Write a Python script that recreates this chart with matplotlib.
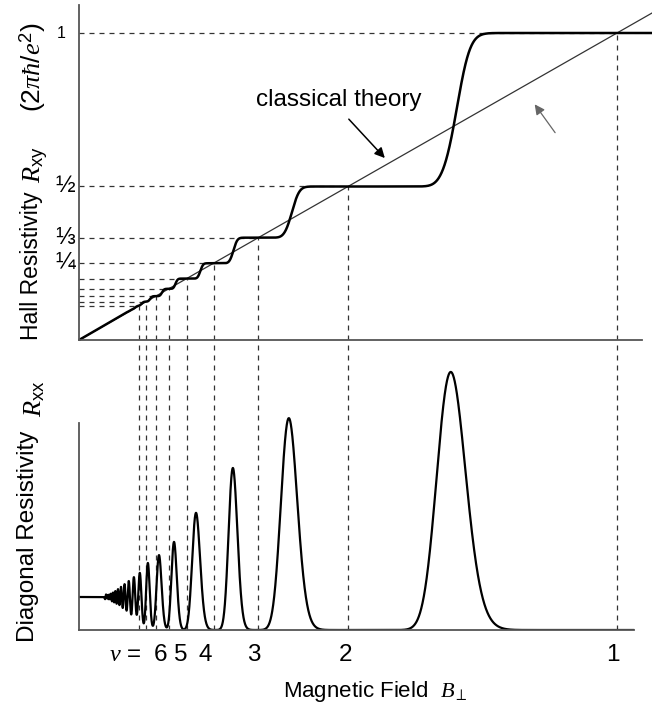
import math
import numpy as np
import matplotlib
matplotlib.use("Agg")
import matplotlib.pyplot as plt

plt.rcParams['font.family'] = ['Liberation Sans', 'DejaVu Sans']
plt.rcParams['mathtext.fontset'] = 'custom'
plt.rcParams['mathtext.rm'] = 'Liberation Sans'
plt.rcParams['mathtext.sf'] = 'Liberation Sans'
plt.rcParams['mathtext.it'] = 'Liberation Serif:italic'
plt.rcParams['mathtext.bf'] = 'Liberation Sans:bold'
plt.rcParams['mathtext.fallback'] = 'stix'

# ---------------- data ----------------
nu_levels = [1, 2, 3, 4, 5, 6, 7, 8, 9]          # filling factors with dashed guide lines
nu_axis_labels = [1, 2, 3, 4, 5, 6]               # numbers written under the x axis
ytick_vals = [1, 1 / 2, 1 / 3, 1 / 4]
ytick_labels = ['1', '½', '⅓', '¼']

# Hall resistance: field of the step nu -> nu+1 and its width (in filling factor units)
hall_step_B = [0.693, 0.393, 0.286, 0.225, 0.179, 0.154, 0.132, 0.116, 0.104, 0.094, 0.085, 0.078]
hall_step_w = [0.042, 0.07, 0.07, 0.08, 0.10, 0.13, 0.17, 0.22, 0.28, 0.35, 0.42, 0.50]

# diagonal resistance: peak field, height (low-field value = 1) and width (filling factor units)
rxx_peak_B = [0.691, 0.390, 0.286, 0.2175, 0.1766, 0.1487, 0.128, 0.113, 0.102, 0.0925,
              0.0847, 0.0781, 0.0725, 0.0676, 0.0633, 0.0595, 0.0562, 0.0532, 0.0505]
rxx_peak_h = [7.82, 6.42, 4.91, 3.55, 2.67, 2.27, 2.03, 1.73, 1.60, 1.48,
              1.38, 1.29, 1.21, 1.14, 1.08, 1.02, 0.97, 0.93, 0.87]
rxx_peak_w = [0.056, 0.10, 0.10, 0.155, 0.16, 0.21, 0.20, 0.23, 0.25, 0.27,
              0.29, 0.31, 0.33, 0.35, 0.37, 0.39, 0.41, 0.43, 0.46]
B_max = 1.065         # right end of the Hall trace
B_max_xx = 1.03       # right end of the Rxx trace

# ---------------- curves ----------------
erf = np.frompyfunc(math.erf, 1, 1)


def Phi(x):
    return 0.5 * (1.0 + erf(x / math.sqrt(2.0)).astype(float))


def phi(x):
    return np.exp(-0.5 * x ** 2) / math.sqrt(2 * math.pi)


B = np.linspace(0.002, B_max, 30000)
f = 1.0 / B

nu_eff = np.ones_like(B)
for tb, w in zip(hall_step_B, hall_step_w):
    nu_eff += Phi((f - 1.0 / tb) / w)
sig = hall_step_w[-1]
x = f - (1.0 / hall_step_B[-1] + 0.5)
nu_eff += x * Phi(x / sig) + sig * phi(x / sig)
R_xy = 1.0 / nu_eff
R_cl = B

R_xx = np.zeros_like(B)
for pb, h, w in zip(rxx_peak_B, rxx_peak_h, rxx_peak_w):
    R_xx += h * np.exp(-0.5 * ((f - 1.0 / pb) / w) ** 2)
sig = rxx_peak_w[-1]
R_xx += Phi((f - (1.0 / rxx_peak_B[-1] + 0.5)) / sig)

# ---------------- figure ----------------
W, H = 652, 713
fig = plt.figure(figsize=(W / 100, H / 100), dpi=100)
x0 = 79
px_per_B = 538
ax1 = fig.add_axes([x0 / W, (H - 340) / H, (W - x0) / W, 335 / H])
ax2 = fig.add_axes([x0 / W, (H - 630) / H, (W - x0) / W, 290 / H])

xlim = (0, (W - x0) / px_per_B)
for ax in (ax1, ax2):
    ax.set_xlim(*xlim)
    ax.spines['top'].set_visible(False)
    ax.spines['right'].set_visible(False)
    ax.set_xticks([])
    ax.set_yticks([])
    ax.patch.set_alpha(0)
    for s in ('left', 'bottom'):
        ax.spines[s].set_color('#555555')
        ax.spines[s].set_linewidth(1.3)

ax1.set_ylim(0, 335 / 307)
ax2.set_ylim(0, 290 / 33)
ax1.spines['bottom'].set_bounds(0, (642 - x0) / px_per_B)
ax2.spines['bottom'].set_bounds(0, (634 - x0) / px_per_B)
ax2.spines['left'].set_bounds(0, (630 - 423) / 33)

dash = dict(color='#333333', lw=0.9, linestyle=(0, (4, 4)))
for nu in nu_levels:
    v = 1.0 / nu
    ax1.plot([0, v], [v, v], **dash)
    ax1.plot([v, v], [0, v], **dash)
    ax2.plot([v, v], [0, ax2.get_ylim()[1]], **dash)

ax1.plot(B, R_cl, color='#333333', lw=0.9, clip_on=False)
ax1.plot(B, R_xy, color='black', lw=1.8, clip_on=False)
mask = B <= B_max_xx
ax2.plot(B[mask], R_xx[mask], color='black', lw=1.6)

# y tick labels of the Hall panel
tick_fs = [11.5, 17, 17, 17]
tick_off = [-13, -4, -4, -4]
for v, lab, fs, off in zip(ytick_vals, ytick_labels, tick_fs, tick_off):
    ax1.annotate(lab, xy=(0, v), xycoords=('axes fraction', 'data'),
                 xytext=(off, 0), textcoords='offset pixels',
                 ha='right', va='center', fontsize=fs)

ax1.text(0.483, 0.782, 'classical theory', ha='center', va='center', fontsize=17.5)
ax1.annotate('', xy=(0.572, 0.586), xytext=(0.498, 0.726),
             arrowprops=dict(arrowstyle='-|>', color='black', lw=1.1, mutation_scale=15))
ax1.annotate('', xy=(0.844, 0.775), xytext=(0.888, 0.668),
             arrowprops=dict(arrowstyle='-|>', color='#666666', lw=0.9, mutation_scale=15))

offs = {1: -4, 2: -3, 3: -5, 4: -8, 5: -6, 6: -8}
for nu in nu_axis_labels:
    ax2.annotate(str(nu), xy=(1.0 / nu, 0), xycoords=('data', 'axes fraction'),
                 xytext=(offs[nu], -25), textcoords='offset pixels',
                 ha='center', va='center', fontsize=17.5)
ax2.annotate(r'$\nu$ =', xy=(1.0 / 6, 0), xycoords=('data', 'axes fraction'),
             xytext=(-27, -25), textcoords='offset pixels',
             ha='right', va='center', fontsize=17.5)

fig.text(375 / W, 1 - 692 / H, r'Magnetic Field  $B_{\perp}$', ha='center', va='center', fontsize=16)


def vlabel(s, xb, yb, fs):
    fig.text(xb / W, 1 - yb / H, s, rotation=90, rotation_mode='anchor',
             ha='left', va='baseline', fontsize=fs)


vlabel('Hall Resistivity', 38, 340, 16.5)
vlabel(r'$R_{\mathrm{xy}}$', 41, 183, 19)
vlabel(r'$(2\pi\hbar/e^2)$', 41, 112, 19)
vlabel('Diagonal Resistivity', 34, 642, 17.5)
vlabel(r'$R_{\mathrm{xx}}$', 41, 417, 19)

fig.savefig('out.png', dpi=100)
